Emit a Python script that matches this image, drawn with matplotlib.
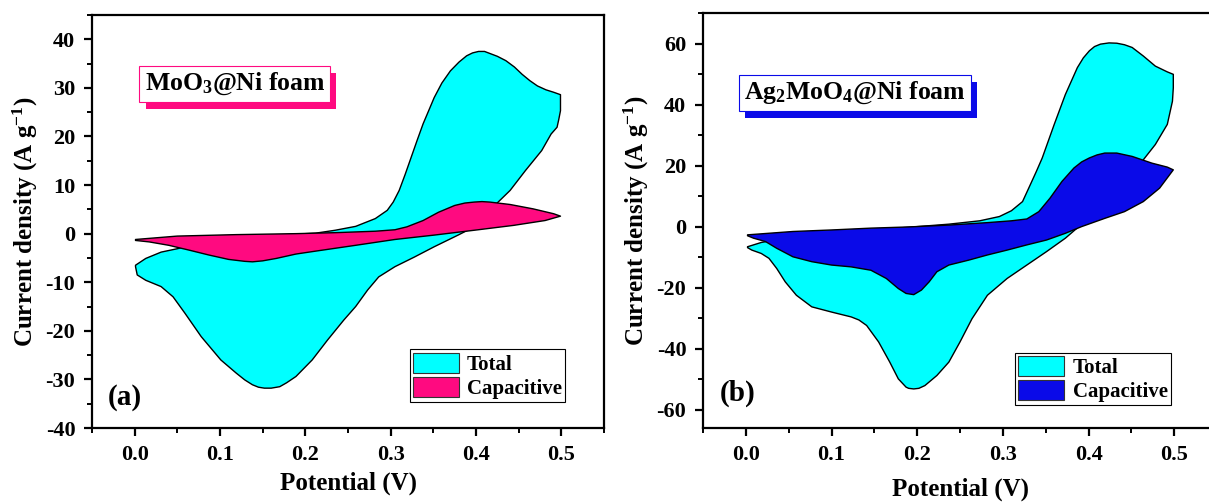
import numpy as np
import matplotlib
matplotlib.use('Agg')
import matplotlib.pyplot as plt
from matplotlib.patches import Patch
from matplotlib.ticker import MultipleLocator
import matplotlib.patheffects as pe

plt.rcParams['font.family'] = ['Liberation Serif', 'DejaVu Serif']
plt.rcParams['font.weight'] = 'bold'
plt.rcParams['axes.unicode_minus'] = False
plt.rcParams['mathtext.fontset'] = 'custom'
plt.rcParams['mathtext.rm'] = 'Liberation Serif:bold'
plt.rcParams['mathtext.bf'] = 'Liberation Serif:bold'
plt.rcParams['mathtext.it'] = 'Liberation Serif:bold'

# ---- panel (a): MoO3@Ni foam ----
a_tot_up_v = [0.001, 0.013, 0.031, 0.050, 0.082, 0.119, 0.166, 0.212, 0.235, 0.259, 0.282, 0.296,
              0.303, 0.310, 0.317, 0.324, 0.331, 0.338, 0.345, 0.351, 0.360, 0.370, 0.380, 0.389,
              0.396, 0.403, 0.410, 0.416, 0.425, 0.435, 0.445, 0.454, 0.463, 0.472, 0.482, 0.491, 0.499]
a_tot_up_i = [-6.5, -5.1, -3.8, -3.1, -1.7, -1.0, -0.3, 0.1, 0.7, 1.5, 3.1, 4.8,
              6.5, 8.9, 12.2, 15.7, 19.2, 22.6, 25.5, 28.0, 31.0, 33.5, 35.3, 36.6,
              37.2, 37.5, 37.5, 37.1, 36.5, 35.6, 34.3, 32.8, 31.5, 30.4, 29.6, 29.1, 28.6]
a_tot_dn_v = [0.499, 0.497, 0.495, 0.488, 0.477, 0.458, 0.440, 0.416, 0.398, 0.379, 0.351, 0.328,
              0.305, 0.286, 0.273, 0.259, 0.245, 0.226, 0.208, 0.189, 0.178, 0.170, 0.160, 0.152,
              0.145, 0.138, 0.129, 0.119, 0.101, 0.078, 0.059, 0.045, 0.031, 0.013, 0.003, 0.001]
a_tot_dn_i = [25.3, 23.5, 21.9, 20.5, 17.1, 13.0, 8.9, 4.8, 1.4, -0.3, -2.7, -4.8,
              -6.8, -8.9, -11.6, -15.0, -17.8, -21.9, -26.0, -29.4, -30.7, -31.5, -31.8, -31.8,
              -31.6, -31.1, -30.1, -28.7, -26.0, -21.2, -16.4, -13.0, -10.9, -9.6, -8.5, -6.8]

a_cap_up_v = [0.001, 0.050, 0.119, 0.189, 0.235, 0.282, 0.305, 0.319, 0.338, 0.356, 0.375, 0.387,
              0.398, 0.407, 0.416, 0.440, 0.467, 0.491, 0.499]
a_cap_up_i = [-1.2, -0.5, -0.2, 0.0, 0.2, 0.5, 0.8, 1.4, 2.7, 4.4, 5.8, 6.3,
              6.5, 6.6, 6.5, 6.0, 5.1, 4.1, 3.6]
a_cap_dn_v = [0.481, 0.444, 0.398, 0.351, 0.305, 0.259, 0.212, 0.189, 0.166, 0.150, 0.138, 0.129,
              0.110, 0.087, 0.064, 0.040, 0.017, 0.001]
a_cap_dn_i = [2.7, 1.7, 0.7, -0.3, -1.2, -2.4, -3.6, -4.2, -5.1, -5.6, -5.8, -5.7,
              -5.3, -4.4, -3.4, -2.4, -1.7, -1.4]

# ---- panel (b): Ag2MoO4@Ni foam ----
b_tot_up_v = [0.002, 0.018, 0.055, 0.100, 0.146, 0.191, 0.237, 0.273, 0.296, 0.310, 0.323, 0.332,
              0.339, 0.346, 0.353, 0.360, 0.373, 0.387, 0.394, 0.401, 0.407, 0.414, 0.424, 0.433,
              0.442, 0.451, 0.464, 0.478, 0.492, 0.499]
b_tot_up_i = [-6.6, -5.2, -3.3, -2.2, -1.1, -0.2, 0.8, 1.9, 3.3, 5.2, 8.2, 13.7,
              18.0, 22.5, 28.0, 33.5, 43.3, 52.1, 55.3, 57.6, 59.0, 59.8, 60.2, 60.1,
              59.6, 58.7, 55.9, 52.6, 50.7, 49.9]
b_tot_dn_v = [0.499, 0.498, 0.492, 0.478, 0.464, 0.446, 0.428, 0.410, 0.392, 0.373, 0.351, 0.328,
              0.305, 0.282, 0.264, 0.250, 0.237, 0.223, 0.209, 0.202, 0.196, 0.190, 0.187, 0.178,
              0.168, 0.155, 0.141, 0.132, 0.123, 0.100, 0.077, 0.059, 0.046, 0.036, 0.027, 0.018,
              0.007, 0.002]
b_tot_dn_i = [45.5, 41.1, 33.5, 26.9, 21.9, 14.8, 9.3, 4.4, 0.8, -3.8, -8.2, -12.6,
              -17.0, -22.5, -30.2, -37.8, -44.4, -48.8, -52.1, -53.0, -53.2, -53.0, -52.6, -49.9,
              -44.4, -37.8, -32.4, -30.6, -29.6, -28.0, -26.3, -22.5, -18.1, -13.7, -10.4, -8.8,
              -7.7, -6.9]

b_cap_up_v = [0.002, 0.055, 0.100, 0.146, 0.191, 0.237, 0.282, 0.310, 0.328, 0.342, 0.355, 0.369,
              0.383, 0.392, 0.401, 0.410, 0.419, 0.433, 0.451, 0.474, 0.492, 0.499]
b_cap_up_i = [-2.7, -1.6, -1.1, -0.5, -0.1, 0.5, 1.3, 1.9, 2.5, 4.9, 9.3, 14.8,
              19.2, 21.2, 22.5, 23.5, 24.1, 24.1, 23.0, 20.8, 19.5, 18.6]
b_cap_dn_v = [0.483, 0.464, 0.442, 0.419, 0.392, 0.373, 0.351, 0.328, 0.305, 0.282, 0.260, 0.237,
              0.223, 0.214, 0.205, 0.196, 0.187, 0.178, 0.164, 0.146, 0.123, 0.100, 0.077, 0.055,
              0.036, 0.023, 0.009, 0.002]
b_cap_dn_i = [12.6, 8.2, 4.9, 2.7, 0.0, -2.2, -4.4, -6.0, -7.7, -9.3, -11.0, -12.6,
              -14.8, -18.1, -20.8, -22.3, -21.9, -20.3, -17.0, -14.3, -13.2, -12.6, -11.5, -9.9,
              -7.1, -4.9, -3.8, -3.0]

cyan = '#00ffff'
pink = '#ff0a80'
blue = '#0a0ae8'

fig = plt.figure(figsize=(12.09, 5.03), dpi=100)
W, H = 1209, 503
ax1 = fig.add_axes([92 / W, 1 - 428 / H, 512 / W, 413 / H])
ax2 = fig.add_axes([703 / W, 1 - 428 / H, 514 / W, 415 / H])


def loop(ax, up_v, up_i, dn_v, dn_i, color):
    v = np.concatenate([up_v, dn_v])
    i = np.concatenate([up_i, dn_i])
    ax.fill(v, i, facecolor=color, edgecolor='black', linewidth=1.0, joinstyle='round')


def style(ax, ylim, major, minor, xpad):
    ax.set_xlim(-0.05, 0.55)
    ax.set_ylim(*ylim)
    ax.xaxis.set_major_locator(MultipleLocator(0.1))
    ax.xaxis.set_minor_locator(MultipleLocator(0.05))
    ax.yaxis.set_major_locator(MultipleLocator(major))
    ax.yaxis.set_minor_locator(MultipleLocator(minor))
    for s in ax.spines.values():
        s.set_linewidth(1.6)
    ax.tick_params(which='major', direction='out', length=6, width=1.6, labelsize=16, pad=6)
    ax.tick_params(which='minor', direction='out', length=3.5, width=1.4)
    ax.set_xlabel('Potential (V)', fontsize=18, fontweight='bold', labelpad=xpad)
    ax.set_ylabel('Current density (A g$^{-1}$)', fontsize=18, fontweight='bold', labelpad=4)


def tagbox(ax, x, y, txt, shadow):
    t = ax.text(x, y, txt, transform=ax.transAxes, ha='center', va='center',
                fontsize=18.5, fontweight='bold',
                bbox=dict(boxstyle='square,pad=0.2', facecolor='white', edgecolor=shadow, linewidth=0.8))
    t.get_bbox_patch().set_path_effects([
        pe.SimplePatchShadow(offset=(4.5, -5), shadow_rgbFace=shadow, alpha=1.0),
        pe.Normal()])


loop(ax1, a_tot_up_v, a_tot_up_i, a_tot_dn_v, a_tot_dn_i, cyan)
loop(ax1, a_cap_up_v, a_cap_up_i, a_cap_dn_v, a_cap_dn_i, pink)
style(ax1, (-40, 45), 10, 5, 5)
tagbox(ax1, 0.279, 0.833, 'MoO$_3$@Ni foam', pink)
ax1.text(0.064, 0.073, '(a)', transform=ax1.transAxes, ha='center', va='center',
         fontsize=21, fontweight='bold')

loop(ax2, b_tot_up_v, b_tot_up_i, b_tot_dn_v, b_tot_dn_i, cyan)
loop(ax2, b_cap_up_v, b_cap_up_i, b_cap_dn_v, b_cap_dn_i, blue)
style(ax2, (-66, 70), 20, 10, 9)
tagbox(ax2, 0.296, 0.807, 'Ag$_2$MoO$_4$@Ni foam', blue)
ax2.text(0.068, 0.084, '(b)', transform=ax2.transAxes, ha='center', va='center',
         fontsize=21, fontweight='bold')

for ax, cap_col, anchor in [(ax1, pink, (0.924, 0.063)), (ax2, blue, (0.91, 0.055))]:
    handles = [Patch(facecolor=cyan, edgecolor='#333333', linewidth=0.8, label='Total'),
               Patch(facecolor=cap_col, edgecolor='#333333', linewidth=0.8, label='Capacitive')]
    leg = ax.legend(handles=handles, loc='lower right', bbox_to_anchor=anchor,
                    fontsize=15, fancybox=False, edgecolor='black', framealpha=1,
                    handlelength=2.2, handleheight=1.1, labelspacing=0.1,
                    borderpad=0.15, handletextpad=0.4, borderaxespad=0)
    leg.get_frame().set_linewidth(0.8)
    for txt in leg.get_texts():
        txt.set_fontweight('bold')

fig.savefig('out.png', dpi=100)
